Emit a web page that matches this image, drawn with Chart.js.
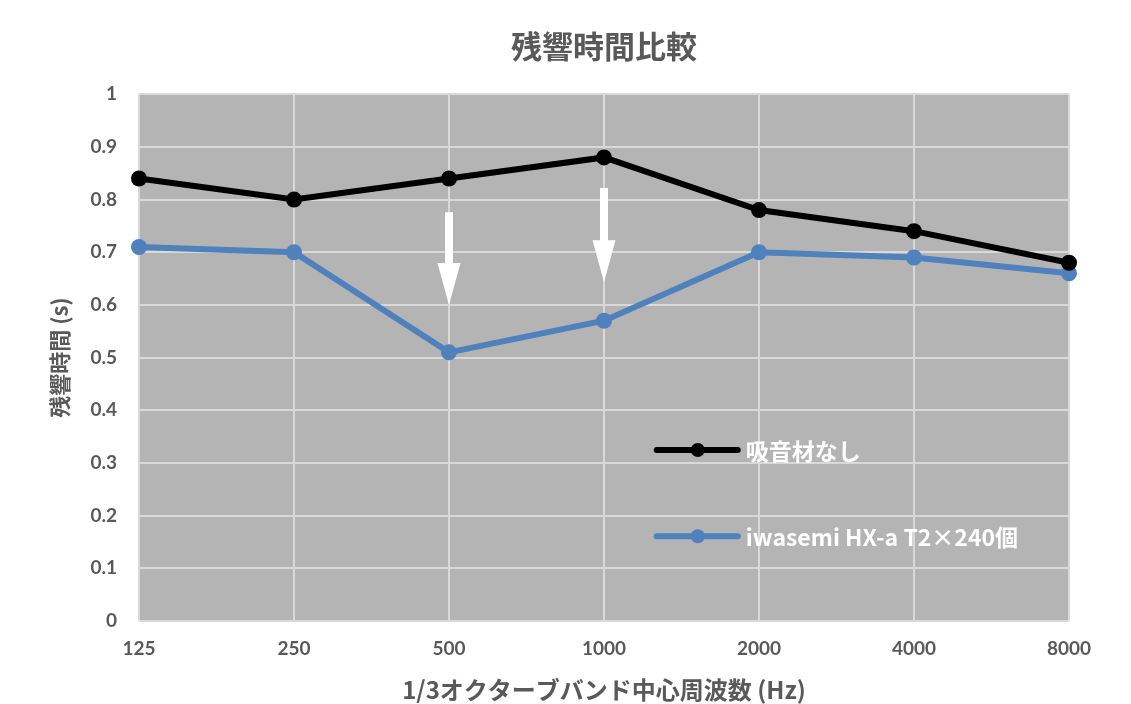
<!DOCTYPE html>
<html><head><meta charset="utf-8">
<script src="https://cdn.jsdelivr.net/npm/chart.js@4.4.0/dist/chart.umd.min.js"></script>
<style>
html,body{margin:0;padding:0;background:#fff;}
#wrap{position:relative;width:1131px;height:704px;}
</style></head><body>
<div id="wrap"><canvas id="c" width="1131" height="704"></canvas></div>
<script>
const categories = ['125','250','500','1000','2000','4000','8000'];
const seriesNames = ['吸音材なし','iwasemi HX-a T2×240個'];
const noAbsorber = [0.84, 0.80, 0.84, 0.88, 0.78, 0.74, 0.68];
const iwasemi = [0.71, 0.70, 0.51, 0.57, 0.70, 0.69, 0.66];
const yTicks = [0,0.1,0.2,0.3,0.4,0.5,0.6,0.7,0.8,0.9,1];
// arrows: [category index, from value, to value]
const arrows = [[2, 0.776, 0.600],[3, 0.822, 0.643]];

const FONT = "Lato, 'Noto Sans CJK JP', sans-serif";
const LEG = "'Noto Sans CJK JP', 'Open Sans', sans-serif";
const JP = "'Noto Sans CJK JP', Lato, sans-serif";
const TEXT = '#595959';
const BLACK = '#000000';
const BLUE = '#4f81bd';

const bgPlugin = {
  id:'bg',
  beforeDraw(chart){
    const {ctx, chartArea:a} = chart;
    ctx.save();
    ctx.fillStyle = '#b4b4b5';
    ctx.fillRect(a.left, a.top, a.right-a.left, a.bottom-a.top);
    ctx.restore();
  }
};

const overlayPlugin = {
  id:'overlay',
  afterDatasetsDraw(chart){
    const ctx = chart.ctx, xs = chart.scales.x, ys = chart.scales.y;
    ctx.save();
    // arrows
    ctx.fillStyle = '#ffffff';
    arrows.forEach(([i, v0, v1])=>{
      const x = xs.getPixelForValue(i);
      const y0 = ys.getPixelForValue(v0), y1 = ys.getPixelForValue(v1);
      const headH = 42, shaftW = 8, headW = 23;
      ctx.fillRect(x-shaftW/2, y0, shaftW, (y1-y0)-headH+1);
      ctx.beginPath();
      ctx.moveTo(x-headW/2, y1-headH);
      ctx.lineTo(x+headW/2, y1-headH);
      ctx.lineTo(x, y1);
      ctx.closePath();
      ctx.fill();
    });
    // legend
    const items = [[0,0.3245],[1,0.161]];
    items.forEach(([d, v])=>{
      const ds = chart.data.datasets[d];
      const y = ys.getPixelForValue(v);
      const x0 = xs.getPixelForValue(3.34), x1 = xs.getPixelForValue(3.863), xm = xs.getPixelForValue(3.605);
      ctx.strokeStyle = ds.borderColor; ctx.lineWidth = 6; ctx.lineCap = 'round';
      ctx.beginPath(); ctx.moveTo(x0,y); ctx.lineTo(x1,y); ctx.stroke();
      ctx.fillStyle = ds.borderColor;
      ctx.beginPath(); ctx.arc(xm,y,7,0,Math.PI*2); ctx.fill();
      ctx.fillStyle = '#ffffff';
      ctx.font = "bold 23px " + LEG;
      ctx.textBaseline = 'middle'; ctx.textAlign = 'left';
      ctx.fillText(ds.label, xs.getPixelForValue(3.915), y+1);
    });
    ctx.restore();
  }
};

new Chart(document.getElementById('c'), {
  type:'line',
  data:{
    labels: categories,
    datasets:[
      {label: seriesNames[0], data: noAbsorber, borderColor: BLACK, backgroundColor: BLACK,
       borderWidth: 6, pointRadius: 8, pointHoverRadius: 8, pointBackgroundColor: BLACK, pointBorderWidth:0, tension:0},
      {label: seriesNames[1], data: iwasemi, borderColor: BLUE, backgroundColor: BLUE,
       borderWidth: 6, pointRadius: 8, pointHoverRadius: 8, pointBackgroundColor: BLUE, pointBorderWidth:0, tension:0}
    ]
  },
  options:{
    responsive:false, animation:false,
    layout:{padding:{left:0, right:62, top:0, bottom:0}},
    plugins:{
      legend:{display:false},
      tooltip:{enabled:false},
      title:{display:true, fullSize:false, text:'残響時間比較', color: TEXT,
        font:{family: JP, size:31, weight:'bold'}, padding:{top:28, bottom:29}}
    },
    scales:{
      x:{
        offset:false,
        grid:{color:'#d9d9d9', lineWidth:2, drawTicks:false},
        border:{display:false},
        ticks:{color: TEXT, font:{family: FONT, size:19, weight:'bold'}, padding:16, maxRotation:0, autoSkip:false},
        title:{display:true, text:'1/3オクターブバンド中心周波数 (Hz)', color: TEXT,
          font:{family: JP, size:24, weight:'bold'}, padding:{top:2, bottom:0}},
        afterFit(s){ s.height = 83; }
      },
      y:{
        min:0, max:1,
        afterBuildTicks(s){ s.ticks = yTicks.map(v=>({value:v})); },
        grid:{color:'#d9d9d9', lineWidth:2, drawTicks:false},
        border:{display:false},
        ticks:{color: TEXT, font:{family: FONT, size:19, weight:'bold'}, padding:22,
          callback:(v)=>String(Math.round(v*10)/10)},
        title:{display:true, text:'残響時間 (s)', color: TEXT,
          font:{family: JP, size:22, weight:'bold'}, padding:{top:46, bottom:0}},
        afterFit(s){ s.width = 139; }
      }
    }
  },
  plugins:[bgPlugin, overlayPlugin]
});
</script>
</body></html>
